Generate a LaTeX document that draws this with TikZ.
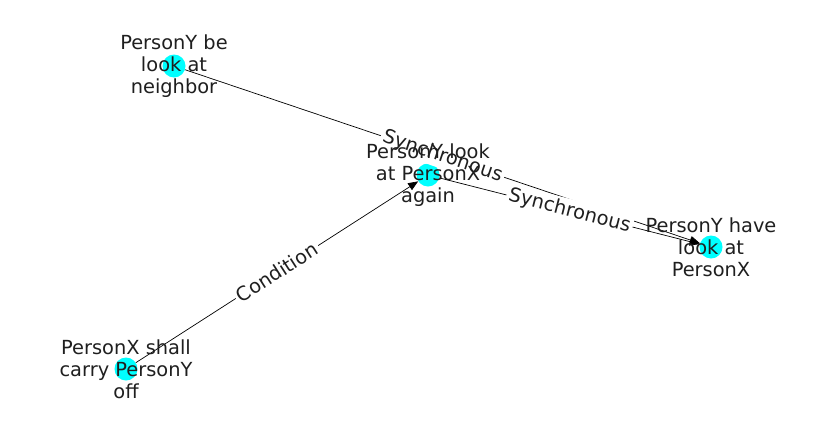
\documentclass[tikz,border=0pt]{standalone}
\usepackage{fontspec}
\setmainfont{DejaVu Sans}
\usetikzlibrary{arrows.meta}
\definecolor{nodecyan}{RGB}{0,255,255}
\begin{document}
\begin{tikzpicture}[x=1pt,y=-1pt,
  dot/.style={circle,fill=nodecyan,minimum size=23pt,inner sep=0pt},
  lbl/.style={font=\fontsize{19.4}{22}\selectfont, align=center, text=black!88, inner sep=0pt},
  link/.style={draw=black, line width=0.7pt, -{Triangle[length=10pt,width=8pt]}},
  elbl/.style={fill=white, rounded corners=4pt, inner sep=2.5pt, text=black!88, font=\fontsize{19.4}{22}\selectfont, sloped, pos=0.5}
]
\useasboundingbox (0,0) rectangle (837,434);
\node[dot] (a) at (174,66) {};
\node[dot] (b) at (428,175) {};
\node[dot] (c) at (711,247) {};
\node[dot] (d) at (126,369) {};
\draw[link] (a) -- node[elbl]{Synchronous} (c);
\draw[link] (b) -- node[elbl]{Synchronous} (c);
\draw[link] (d) -- node[elbl]{Condition} (b);
\node[lbl] (ta) at (174,66) {PersonY be\\look at\\neighbor};
\node[lbl] (tb) at (428,175) {PersonY look\\at PersonX\\again};
\node[lbl] (tc) at (711,247) {PersonY have\\look at\\PersonX};
\node[lbl] (td) at (126,369) {PersonX shall\\carry PersonY\\off};
\end{tikzpicture}
\end{document}
